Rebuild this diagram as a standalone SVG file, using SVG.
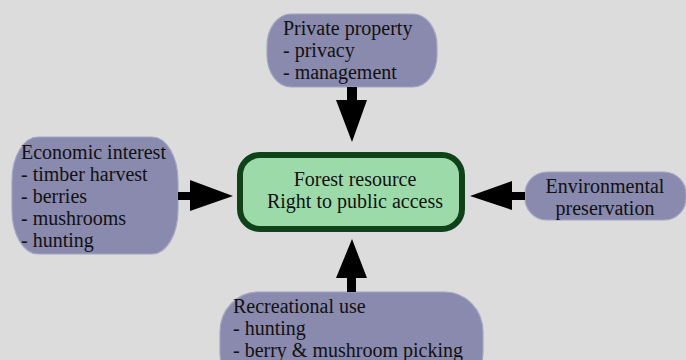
<svg xmlns="http://www.w3.org/2000/svg" width="686" height="360" viewBox="0 0 686 360">
<defs>
<style>
.bg{fill:#dcdcdc}
.n{fill:#8a8aae;stroke:#a4a4c4;stroke-width:1.2}
.c{fill:#9cdba9;stroke:#0f4219;stroke-width:6}
text{font-family:"Liberation Serif","Times New Roman",serif;font-size:20px;fill:#111}
.ar{fill:#000}
</style>
</defs>
<rect class="bg" x="0" y="0" width="686" height="360"/>
<g id="private">
<rect class="n" x="267" y="14" width="170" height="73" rx="24" ry="32"/>
<text x="283" y="35">Private property</text>
<text x="283" y="57">- privacy</text>
<text x="283" y="79">- management</text>
</g>
<g id="economic">
<rect class="n" x="12" y="137" width="166" height="117" rx="26" ry="44"/>
<text x="21" y="159">Economic interest</text>
<text x="21" y="181">- timber harvest</text>
<text x="21" y="203">- berries</text>
<text x="21" y="225">- mushrooms</text>
<text x="21" y="247">- hunting</text>
</g>
<g id="center">
<rect class="c" x="240" y="155" width="222" height="74" rx="20" ry="20"/>
<text x="355" y="186" text-anchor="middle">Forest resource</text>
<text x="355" y="208" text-anchor="middle">Right to public access</text>
</g>
<g id="environmental">
<rect class="n" x="525" y="172" width="161" height="48" rx="22" ry="22"/>
<text x="605" y="193" text-anchor="middle">Environmental</text>
<text x="605" y="215" text-anchor="middle">preservation</text>
</g>
<g id="recreational">
<rect class="n" x="220" y="292" width="263" height="100" rx="38" ry="40"/>
<text x="233" y="313">Recreational use</text>
<text x="233" y="335">- hunting</text>
<text x="233" y="357">- berry &amp; mushroom picking</text>
</g>
<g id="connectors">
<polygon class="ar" points="347,87 357,87 357,100 367,100 352,142 336,100 347,100"/>
<polygon class="ar" points="178,192 190,192 190,180 233,196 190,211 190,200 178,200"/>
<polygon class="ar" points="525,192 512,192 512,181 470,196 512,210 512,200 525,200"/>
<polygon class="ar" points="347,292 356,292 356,278 367,278 352,239 336,278 347,278"/>
</g>
</svg>
